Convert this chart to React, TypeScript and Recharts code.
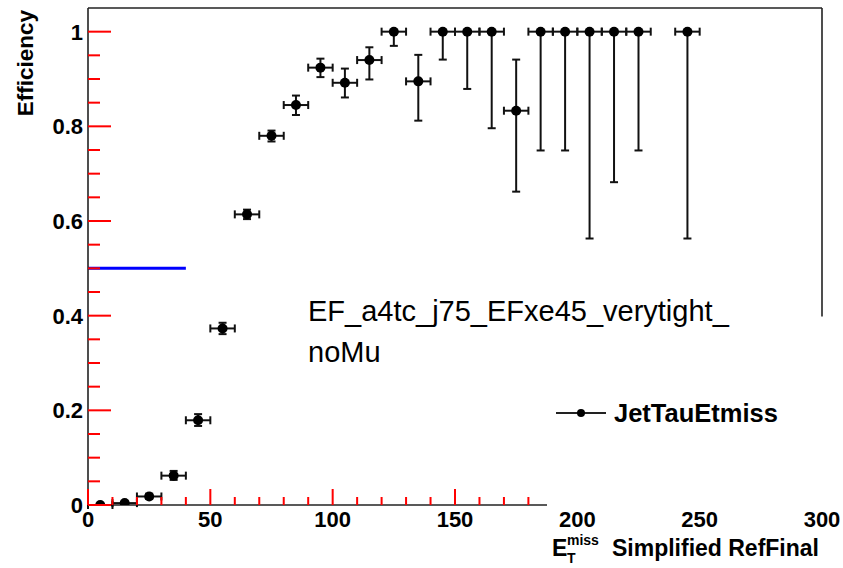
import React from 'react';
import { ScatterChart, Scatter, XAxis, YAxis, ErrorBar, ReferenceLine } from 'recharts';

const binCenters = [5, 15, 25, 35, 45, 55, 65, 75, 85, 95, 105, 115, 125, 135, 145, 155, 165, 175, 185, 195, 205, 215, 225, 245];
const efficiency = [0, 0.004, 0.018, 0.062, 0.179, 0.373, 0.614, 0.78, 0.845, 0.924, 0.892, 0.94, 1, 0.895, 1, 1, 1, 0.833, 1, 1, 1, 1, 1, 1];
const errLow = [0, 0.002, 0.005, 0.009, 0.012, 0.012, 0.01, 0.012, 0.021, 0.02, 0.031, 0.041, 0.03, 0.083, 0.059, 0.121, 0.204, 0.171, 0.251, 0.251, 0.437, 0.318, 0.251, 0.437];
const errHigh = [0.002, 0.003, 0.006, 0.01, 0.013, 0.012, 0.01, 0.011, 0.02, 0.019, 0.03, 0.027, 0, 0.056, 0, 0, 0, 0.108, 0, 0, 0, 0, 0, 0];
const binHalfWidth = [5, 5, 5, 5, 5, 5, 5, 5, 5, 5, 5, 5, 5, 5, 5, 5, 5, 5, 5, 5, 5, 5, 5, 5];

const xTicks = [0, 10, 20, 30, 40, 50, 60, 70, 80, 90, 100, 110, 120, 130, 140, 150, 160, 170, 180, 200, 250, 300];
const xMajorLabels = [0, 50, 100, 150, 200, 250, 300];
const yTicks = [0, 0.05, 0.1, 0.15, 0.2, 0.25, 0.3, 0.35, 0.4, 0.45, 0.5, 0.55, 0.6, 0.65, 0.7, 0.75, 0.8, 0.85, 0.9, 0.95, 1];
const yMajorLabels = [0, 0.2, 0.4, 0.6, 0.8, 1];

const seriesName = 'JetTauEtmiss';
const triggerName = ['EF_a4tc_j75_EFxe45_verytight_', 'noMu'];

const data = binCenters.map((x, i) => ({
  x,
  y: efficiency[i],
  yerr: [errLow[i], errHigh[i]],
  xerr: binHalfWidth[i],
}));

const FONT = "'Liberation Sans', Arial, Helvetica, sans-serif";
const LINE = '#222222';

const isIn = (arr: number[], v: number) => arr.some((a) => Math.abs(a - v) < 1e-9);

const XTick = (props: any) => {
  const { x, y, payload } = props;
  const v = payload.value;
  const major = isIn(xMajorLabels, v);
  return (
    <g>
      {v <= 185 ? (
        <rect x={x - 1} y={y - (major ? 16 : 8)} width={2} height={major ? 16 : 8} fill="red" />
      ) : null}
      {major ? (
        <text x={x} y={y + 22} textAnchor="middle" fontSize={22} fontWeight="bold" fontFamily={FONT} fill="#000">
          {v}
        </text>
      ) : null}
    </g>
  );
};

const YTick = (props: any) => {
  const { x, y, payload } = props;
  const v = payload.value;
  const major = isIn(yMajorLabels, v);
  return (
    <g>
      <rect x={x} y={y - 1} width={major ? 23 : 12} height={2} fill="red" />
      {major ? (
        <text x={x - 5} y={y + 8} textAnchor="end" fontSize={22} fontWeight="bold" fontFamily={FONT} fill="#000">
          {String(v)}
        </text>
      ) : null}
    </g>
  );
};

const Marker = (props: any) => {
  const { cx, cy } = props;
  if (cx == null || cy == null) return null;
  return <circle cx={cx} cy={cy} r={5} fill="#000" />;
};

export default function App() {
  return (
    <div style={{ position: 'absolute', left: 0, top: 0, width: 843, height: 568, background: '#fff' }}>
      <ScatterChart width={843} height={568} margin={{ top: 8, right: 21, bottom: 0, left: 0 }}>
        <XAxis
          type="number"
          dataKey="x"
          domain={[0, 300]}
          allowDataOverflow
          ticks={xTicks}
          interval={0}
          tick={<XTick />}
          tickLine={false}
          tickSize={0}
          tickMargin={0}
          axisLine={false}
          height={63}
        />
        <YAxis
          type="number"
          dataKey="y"
          domain={[0, 1.05]}
          allowDataOverflow
          ticks={yTicks}
          interval={0}
          tick={<YTick />}
          tickLine={false}
          tickSize={0}
          tickMargin={0}
          axisLine={{ stroke: LINE, strokeWidth: 1.6 }}
          width={88}
        />
        <ReferenceLine y={1.05} stroke={LINE} strokeWidth={1.6} ifOverflow="visible" />
        <ReferenceLine segment={[{ x: 0, y: 0 }, { x: 187.6, y: 0 }]} stroke={LINE} strokeWidth={1.6} ifOverflow="visible" />
        <ReferenceLine segment={[{ x: 300, y: 0.398 }, { x: 300, y: 1.05 }]} stroke={LINE} strokeWidth={1.6} ifOverflow="visible" />
        <ReferenceLine segment={[{ x: 0, y: 0.5 }, { x: 40, y: 0.5 }]} stroke="blue" strokeWidth={3} ifOverflow="visible" />
        <Scatter data={data} dataKey="y" name={seriesName} shape={<Marker />} isAnimationActive={false}>
          <ErrorBar dataKey="xerr" direction="x" width={4} stroke="#111" strokeWidth={2} isAnimationActive={false} />
          <ErrorBar dataKey="yerr" direction="y" width={4} stroke="#111" strokeWidth={2} isAnimationActive={false} />
        </Scatter>
      </ScatterChart>
      <svg width={843} height={568} style={{ position: 'absolute', left: 0, top: 0, pointerEvents: 'none' }} fontFamily={FONT}>
        <text transform="translate(33,10) rotate(-90)" textAnchor="end" fontSize={22.5} fontWeight="bold" fill="#000">Efficiency</text>
        <text x={552} y={556} fontSize={23} fontWeight="bold" fill="#000">E</text>
        <text x={567} y={545} fontSize={14} fontWeight="bold" fill="#000">miss</text>
        <text x={567} y={563} fontSize={14} fontWeight="bold" fill="#000">T</text>
        <text x={819} y={556} textAnchor="end" fontSize={23} fontWeight="bold" fill="#000">Simplified RefFinal</text>
        <text x={308} y={321} fontSize={29} fill="#000">{triggerName[0]}</text>
        <text x={308} y={362} fontSize={29} fill="#000">{triggerName[1]}</text>
        <line x1={556} x2={606} y1={413} y2={413} stroke={LINE} strokeWidth={2} />
        <circle cx={581} cy={413} r={4} fill="#000" />
        <text x={614} y={422} fontSize={25.5} fontWeight="bold" fill="#000">{seriesName}</text>
      </svg>
    </div>
  );
}
